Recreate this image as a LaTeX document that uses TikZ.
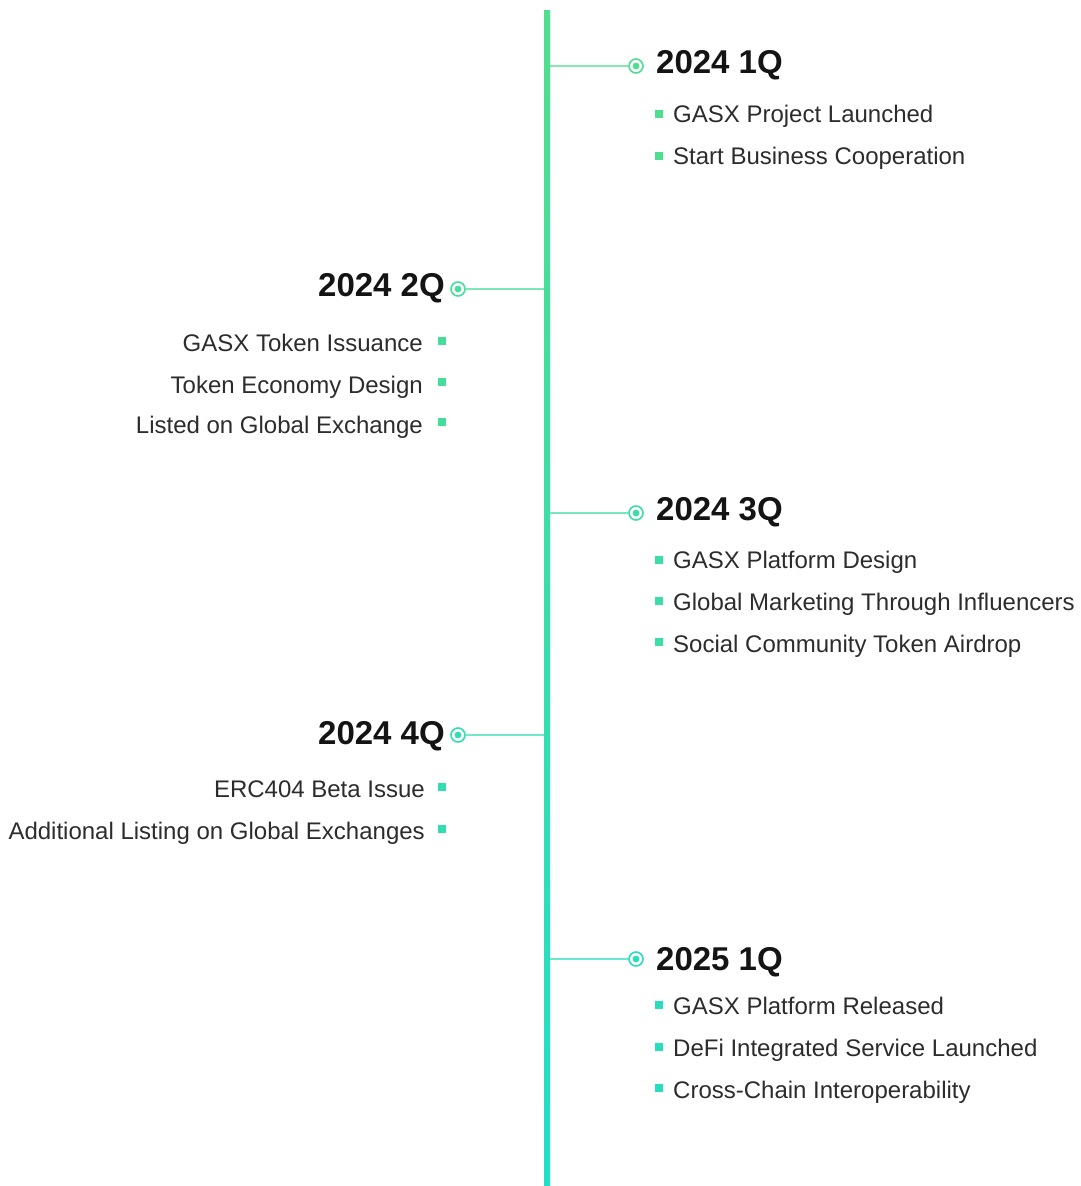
\documentclass[tikz,border=0pt]{standalone}
\usepackage{fontspec}
\setmainfont{Liberation Sans}

% spine colours, top and bottom
\definecolor{spineTop}{RGB}{80,222,140}
\definecolor{spineBot}{RGB}{32,222,200}
\colorlet{q1}{spineBot!5!spineTop}
\colorlet{q2}{spineBot!24!spineTop}
\colorlet{q3}{spineBot!43!spineTop}
\colorlet{q4}{spineBot!62!spineTop}
\colorlet{q5}{spineBot!81!spineTop}
\definecolor{ink}{RGB}{20,20,20}

\begin{document}
\begin{tikzpicture}[
    x=1bp, y=-1bp,
    hd/.style={font=\fontsize{33bp}{38bp}\selectfont\bfseries, text=ink, inner sep=0pt},
    it/.style={font=\fontsize{24bp}{28bp}\selectfont, text=ink!90, inner sep=0pt},
    mk/.style={circle, draw=#1, fill=white, line width=1.6bp, minimum size=14bp,
               inner sep=0pt,
               path picture={\fill[#1] (path picture bounding box.center) circle (3.4bp);}},
    bl/.style={rectangle, fill=#1, minimum size=7.5bp, inner sep=0pt},
    branch/.style={line width=1.4bp, draw=#1!70!white},
]
\useasboundingbox (0,0) rectangle (1081,1186);

% === Spine ===
\shade[top color=spineTop, bottom color=spineBot] (544,10) rectangle (550,1186);
\coordinate (s1) at (550,66);
\coordinate (s2) at (544,289);
\coordinate (s3) at (550,513);
\coordinate (s4) at (544,735);
\coordinate (s5) at (550,959);

% === 2024 1Q (right) ===
\node[mk=q1] (m1) at (636,66) {};
\draw[branch=q1] (s1) -- (m1.west);
\node[hd, anchor=base west] (h1) at (656,73) {2024 1Q};
\node[bl=q1] (b11) at (659,114) {};
\node[it, anchor=base west] (t11) at (673,122) {GASX Project Launched};
\node[bl=q1] (b12) at (659,156) {};
\node[it, anchor=base west] (t12) at (673,164) {Start Business Cooperation};

% === 2024 2Q (left) ===
\node[mk=q2] (m2) at (458,289) {};
\draw[branch=q2] (s2) -- (m2.east);
\node[hd, anchor=base east] (h2) at (445,296) {2024 2Q};
\node[bl=q2] (b21) at (442,341) {};
\node[it, anchor=base east] (t21) at (423,351) {GASX Token Issuance};
\node[bl=q2] (b22) at (442,382) {};
\node[it, anchor=base east] (t22) at (423,393) {Token Economy Design};
\node[bl=q2] (b23) at (442,422) {};
\node[it, anchor=base east] (t23) at (423,433) {Listed on Global Exchange};

% === 2024 3Q (right) ===
\node[mk=q3] (m3) at (636,513) {};
\draw[branch=q3] (s3) -- (m3.west);
\node[hd, anchor=base west] (h3) at (656,520) {2024 3Q};
\node[bl=q3] (b31) at (659,560) {};
\node[it, anchor=base west] (t31) at (673,568) {GASX Platform Design};
\node[bl=q3] (b32) at (659,601) {};
\node[it, anchor=base west] (t32) at (673,610) {Global Marketing Through Influencers};
\node[bl=q3] (b33) at (659,642) {};
\node[it, anchor=base west] (t33) at (673,652) {Social Community Token Airdrop};

% === 2024 4Q (left) ===
\node[mk=q4] (m4) at (458,735) {};
\draw[branch=q4] (s4) -- (m4.east);
\node[hd, anchor=base east] (h4) at (445,744) {2024 4Q};
\node[bl=q4] (b41) at (442,787) {};
\node[it, anchor=base east] (t41) at (425,797) {ERC404 Beta Issue};
\node[bl=q4] (b42) at (442,829) {};
\node[it, anchor=base east] (t42) at (425,839) {Additional Listing on Global Exchanges};

% === 2025 1Q (right) ===
\node[mk=q5] (m5) at (636,959) {};
\draw[branch=q5] (s5) -- (m5.west);
\node[hd, anchor=base west] (h5) at (656,970) {2025 1Q};
\node[bl=q5] (b51) at (659,1005) {};
\node[it, anchor=base west] (t51) at (673,1014) {GASX Platform Released};
\node[bl=q5] (b52) at (659,1047) {};
\node[it, anchor=base west] (t52) at (673,1056) {DeFi Integrated Service Launched};
\node[bl=q5] (b53) at (659,1088) {};
\node[it, anchor=base west] (t53) at (673,1098) {Cross-Chain Interoperability};

\end{tikzpicture}
\end{document}
